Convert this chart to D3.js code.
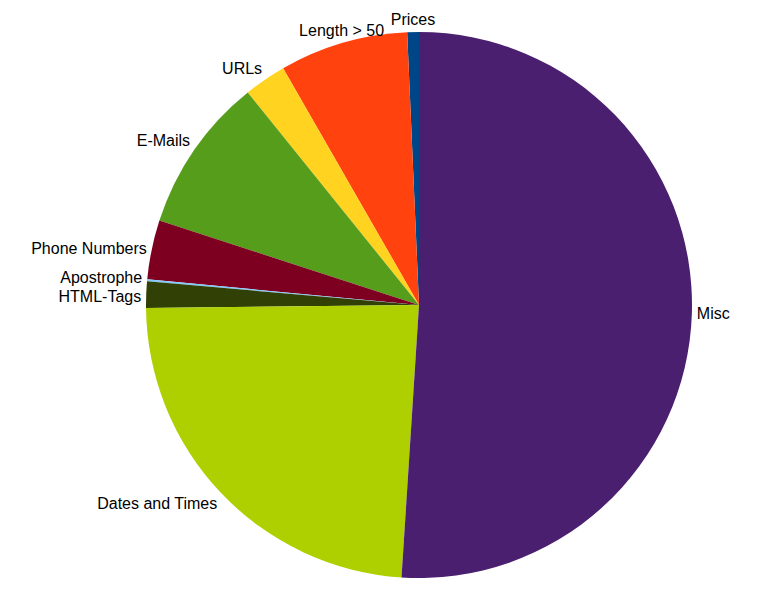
<!DOCTYPE html>
<html>
<head>
<meta charset="utf-8">
<script src="https://cdn.jsdelivr.net/npm/d3@7"></script>
<style>
  html, body { margin: 0; padding: 0; background: #ffffff; }
  svg { display: block; }
</style>
</head>
<body>
<svg id="chart" width="760" height="591"></svg>
<script>
// Slices listed counterclockwise starting at 12 o'clock (LibreOffice order)
const categories = ["Prices", "Length > 50", "URLs", "E-Mails", "Phone Numbers", "Apostrophe", "HTML-Tags", "Dates and Times", "Misc"];
const values = [0.69, 7.6, 2.5, 9.2, 3.5, 0.12, 1.55, 23.8, 51.0];
const colors = ["#004586", "#ff420e", "#ffd320", "#579d1c", "#7e0021", "#83caff", "#314004", "#aecf00", "#4b1f6f"];

const svg = d3.select("#chart");
const cx = 419, cy = 305, r = 273;

const data = categories.map((c, i) => ({ name: c, value: values[i], color: colors[i] }));

// counterclockwise: start at 0 and go to -2PI
const pie = d3.pie().value(d => d.value).sort(null).startAngle(0).endAngle(-2 * Math.PI);
const arcs = pie(data);
const arc = d3.arc().innerRadius(0).outerRadius(r);

const g = svg.append("g").attr("transform", `translate(${cx},${cy})`);

g.selectAll("path.slice")
  .data(arcs)
  .join("path")
  .attr("class", "slice")
  .attr("d", arc)
  .attr("fill", d => d.data.color);

const labelR = r + 5;
const fontSize = 16;

// compute label positions
const labels = arcs.map(d => {
  const a = (d.startAngle + d.endAngle) / 2;
  const s = Math.sin(a), c = Math.cos(a);
  const x = labelR * s, y = -labelR * c;
  let anchor = "middle";
  if (s > 0.3) anchor = "start"; else if (s < -0.3) anchor = "end";
  let ty = y;
  if (c > 0.3) ty = y - fontSize * 0.45;
  else if (c < -0.3) ty = y + fontSize * 0.45;
  return { name: d.data.name, x, y: ty, anchor, side: s < 0 ? -1 : 1 };
});

// small vertical de-overlap of neighbouring labels on the same side
const minSep = fontSize * 1.15;
for (let iter = 0; iter < 5; iter++) {
  for (let i = 0; i < labels.length; i++) {
    for (let j = i + 1; j < labels.length; j++) {
      const A = labels[i], B = labels[j];
      if (A.side !== B.side || A.anchor !== B.anchor || A.anchor === "middle") continue;
      const dy = B.y - A.y;
      if (Math.abs(dy) < minSep && Math.abs(A.x - B.x) < 40) {
        const push = (minSep - Math.abs(dy)) / 2;
        const sgn = dy >= 0 ? 1 : -1;
        A.y -= sgn * push;
        B.y += sgn * push;
      }
    }
  }
}

g.selectAll("text.lbl")
  .data(labels)
  .join("text")
  .attr("class", "lbl")
  .attr("x", d => d.x)
  .attr("y", d => d.y)
  .attr("text-anchor", d => d.anchor)
  .attr("dominant-baseline", "central")
  .attr("font-family", "'Liberation Sans', Arial, sans-serif")
  .attr("font-size", fontSize)
  .attr("fill", "#000")
  .text(d => d.name);
</script>
</body>
</html>
